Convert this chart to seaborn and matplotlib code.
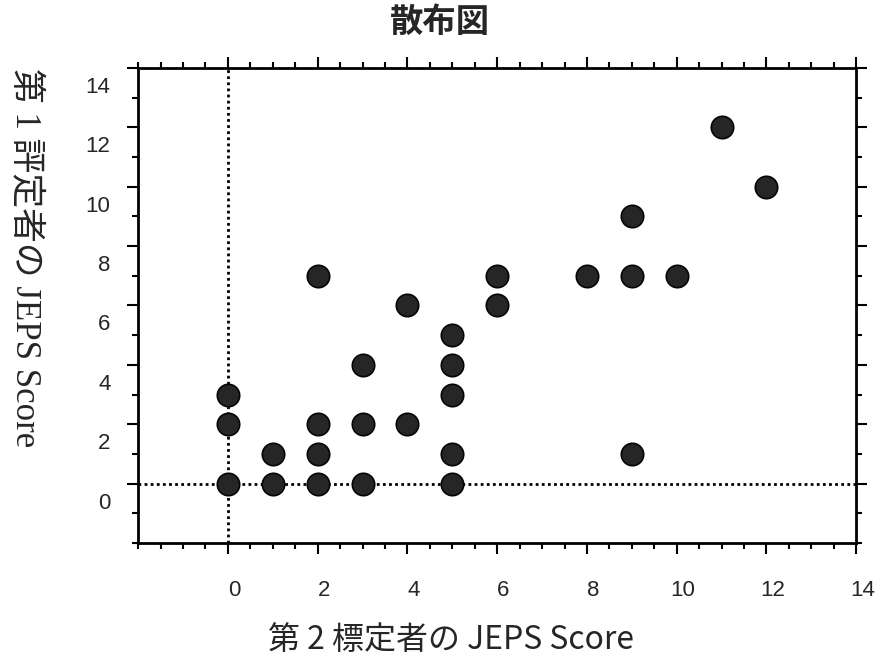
import numpy as np
import pandas as pd
import matplotlib
matplotlib.use('Agg')
import matplotlib.pyplot as plt
from matplotlib.ticker import MultipleLocator
from matplotlib.transforms import ScaledTranslation
import seaborn as sns

# scores: (rater 2, rater 1)
rater2 = [0, 0, 0, 1, 1, 2, 2, 2, 2, 3, 3, 3, 4, 4,
          5, 5, 5, 5, 5, 6, 6, 8, 9, 9, 9, 10, 11, 12]
rater1 = [0, 2, 3, 0, 1, 0, 1, 2, 7, 0, 2, 4, 2, 6,
          0, 1, 3, 4, 5, 6, 7, 7, 1, 7, 9, 7, 12, 10]

x_ticks = [0, 2, 4, 6, 8, 10, 12, 14]
y_ticks = [0, 2, 4, 6, 8, 10, 12, 14]

title = '散布図'
x_label = '第 2 標定者の JEPS Score'
y_label = '第 1 評定者の JEPS Score'

df = pd.DataFrame({'rater2': rater2, 'rater1': rater1})

sns.set_style('ticks')
plt.rcParams['font.family'] = ['Liberation Sans', 'Noto Sans CJK JP']

fig = plt.figure(figsize=(8.8, 6.67), dpi=100)
ax = fig.add_axes([0.157, 0.186, 0.816, 0.712])

# reference lines at zero
ax.axvline(0, color='black', linestyle=(0, (1, 1.2)), linewidth=2, zorder=1)
ax.axhline(0, color='black', linestyle=(0, (1, 1.2)), linewidth=2, zorder=1)

sns.scatterplot(data=df, x='rater2', y='rater1', ax=ax, s=260,
                color='#262626', edgecolor='#050505', linewidth=1.2, zorder=3)

ax.set_xlim(-2, 14)
ax.set_ylim(-2, 14)
ax.set_xticks(x_ticks)
ax.set_yticks(y_ticks)
ax.xaxis.set_minor_locator(MultipleLocator(0.5))
ax.yaxis.set_minor_locator(MultipleLocator(1))
ax.tick_params(which='both', direction='out', top=True, right=True,
               width=1.5, color='black')
ax.tick_params(which='major', length=8, labelsize=16, pad=19, axis='x')
ax.tick_params(which='major', length=8, labelsize=16, pad=12, axis='y')
ax.tick_params(which='minor', length=4)

for sp in ax.spines.values():
    sp.set_linewidth(2)
    sp.set_color('black')

# scanned labels sit a little off their ticks
for lab in ax.get_xticklabels():
    lab.set_transform(lab.get_transform() + ScaledTranslation(0.06, 0, fig.dpi_scale_trans))
for lab in ax.get_yticklabels():
    lab.set_transform(lab.get_transform() + ScaledTranslation(0, -0.17, fig.dpi_scale_trans))

fig.text(0.5, 0.967, title, fontsize=24, fontweight='bold',
         family=['Noto Sans CJK JP'], ha='center', va='center')
ax.set_xlabel(x_label, fontsize=23, family=['Noto Sans CJK JP'], va='center')
ax.xaxis.set_label_coords(0.436, -0.205)
ax.set_ylabel(y_label, fontsize=25, family=['Liberation Serif', 'Noto Sans CJK JP'],
              rotation=270, va='center')
ax.yaxis.set_label_coords(-0.158, 0.6)

fig.savefig('out.png', dpi=100)
